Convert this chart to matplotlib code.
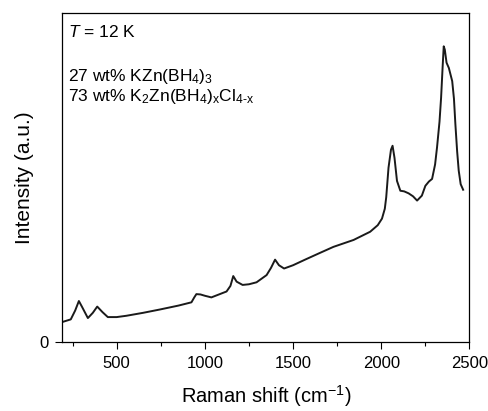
import matplotlib
matplotlib.use("Agg")
import matplotlib.pyplot as plt
from matplotlib.ticker import MultipleLocator

plt.rcParams['font.family'] = ['Liberation Sans', 'DejaVu Sans']
plt.rcParams['mathtext.fontset'] = 'custom'
plt.rcParams['mathtext.rm'] = 'Liberation Sans'
plt.rcParams['mathtext.it'] = 'Liberation Sans:italic'
plt.rcParams['mathtext.default'] = 'regular'

# Raman spectrum (intensity in a.u., 0-100 = axis range)
shift = [192, 210, 240, 265, 286, 305, 337, 365, 390, 420, 450, 500, 555, 650,
         744, 850, 924, 940, 952, 975, 1000, 1037, 1080, 1123, 1145, 1161, 1180,
         1214, 1250, 1293, 1350, 1375, 1398, 1420, 1449, 1500, 1568, 1650, 1729,
         1843, 1937, 1980, 2004, 2020, 2028, 2041, 2055, 2064, 2075, 2089, 2108,
         2130, 2155, 2180, 2203, 2230, 2250, 2270, 2288, 2305, 2316, 2330, 2339,
         2348, 2354, 2360, 2370, 2383, 2402, 2412, 2420, 2430, 2439, 2450, 2464]
intensity = [6.0, 6.3, 6.8, 9.5, 12.4, 10.5, 7.2, 8.8, 10.7, 9.0, 7.5, 7.5, 7.9, 8.8,
             9.8, 11.0, 12.0, 13.5, 14.5, 14.4, 14.0, 13.5, 14.4, 15.3, 17.0, 20.0, 18.3,
             17.3, 17.5, 18.1, 20.3, 22.5, 25.0, 23.3, 22.3, 23.3, 25.0, 27.0, 28.9,
             31.0, 33.5, 35.5, 37.5, 40.5, 44.0, 53.0, 58.5, 59.7, 56.0, 49.0, 46.0,
             45.8, 45.2, 44.3, 43.0, 44.5, 47.5, 48.8, 49.6, 54.0, 59.2, 67.0, 74.3,
             84.0, 90.0, 89.0, 85.0, 83.4, 79.4, 74.0, 66.3, 58.0, 52.1, 48.0, 46.3]

fig = plt.figure(figsize=(4.89, 4.11), dpi=100)
ax = fig.add_axes([0.1274, 0.1686, 0.8327, 0.7986])

ax.plot(shift, intensity, color='#1a1a1a', lw=1.4)

ax.set_xlim(192, 2500)
ax.set_ylim(0, 100)
ax.set_xticks([500, 1000, 1500, 2000, 2500])
ax.xaxis.set_minor_locator(MultipleLocator(250))
ax.set_yticks([0])
ax.tick_params(which='major', direction='out', length=5, width=0.8, labelsize=12, pad=5)
ax.tick_params(which='minor', direction='out', length=3, width=0.8)
for s in ax.spines.values():
    s.set_linewidth(0.9)

ax.set_xlabel(r"Raman shift (cm$^{-1}$)", fontsize=14.5, labelpad=9)
ax.set_ylabel("Intensity (a.u.)", fontsize=15, labelpad=4)

ax.text(0.015, 0.929, r"$\mathit{T}$ = 12 K", transform=ax.transAxes, fontsize=12.5, va='baseline')
ax.text(0.015, 0.794, r"27 wt% KZn(BH$_4$)$_3$", transform=ax.transAxes, fontsize=12.5, va='baseline')
ax.text(0.015, 0.732, r"73 wt% K$_2$Zn(BH$_4$)$_x$Cl$_{4\text{-}x}$", transform=ax.transAxes,
        fontsize=12.5, va='baseline')

fig.savefig("out.png", dpi=100)
